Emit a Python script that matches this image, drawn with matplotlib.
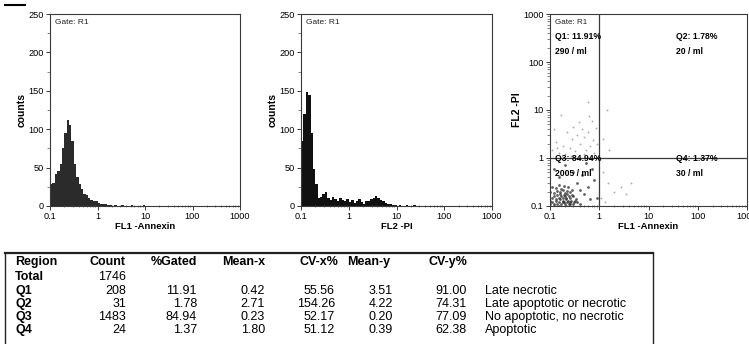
import numpy as np
import matplotlib
matplotlib.use("Agg")
import matplotlib.pyplot as plt
from matplotlib.lines import Line2D

plt.rcParams['font.family'] = ['Liberation Sans', 'DejaVu Sans']

# Histogram channels: 20 bins per decade starting at 0.1
binsPerDecade = 20
annexinCounts = [28, 30, 42, 45, 55, 75, 95, 112, 105, 85, 55, 38, 28, 22, 16, 14, 10, 8, 7, 6,
                 4, 3, 2, 2, 1, 1, 0, 1, 0, 0, 1, 0, 0, 0, 1, 0, 0, 0, 0, 1]
piCounts = [85, 120, 148, 145, 95, 48, 28, 10, 12, 15, 18, 10, 8, 12, 9, 6, 10, 8, 7, 9,
            5, 8, 4, 6, 9, 5, 3, 7, 6, 9, 10, 13, 11, 8, 6, 4, 3, 2, 1, 1,
            0, 1, 0, 0, 1, 0, 0, 1]

# Dot plot events (FL1 Annexin, FL2 PI)
q1X = [0.12, 0.13, 0.15, 0.18, 0.20, 0.22, 0.25, 0.28, 0.30, 0.32, 0.35, 0.38, 0.40, 0.45, 0.50,
       0.55, 0.60, 0.65, 0.70, 0.75, 0.80, 0.85, 0.90, 0.17, 0.60, 0.27, 0.14, 0.50, 0.62, 0.11]
q1Y = [4.0, 2.2, 1.3, 1.8, 1.2, 3.5, 1.6, 2.5, 4.5, 1.4, 3.0, 5.5, 2.0, 4.0, 2.8,
       1.5, 3.5, 1.8, 6.0, 2.4, 1.3, 4.2, 2.0, 8.0, 15.0, 1.1, 1.6, 1.2, 7.5, 1.5]
q2X = [1.45, 1.2, 1.6]
q2Y = [10.0, 2.5, 1.5]
q3X = [0.10, 0.11, 0.12, 0.13, 0.14, 0.15, 0.16, 0.17, 0.18, 0.19, 0.20, 0.21, 0.22, 0.23, 0.24,
       0.25, 0.27, 0.29, 0.31, 0.33, 0.36, 0.40,
       0.11, 0.12, 0.13, 0.14, 0.15, 0.16, 0.17, 0.18, 0.19, 0.20, 0.21, 0.22, 0.24, 0.26,
       0.28, 0.30,
       0.10, 0.12, 0.14, 0.16, 0.18, 0.20, 0.22, 0.25, 0.28,
       0.11, 0.13, 0.15, 0.17, 0.19, 0.23,
       0.10, 0.12, 0.15, 0.18, 0.21, 0.26, 0.32,
       0.35, 0.45, 0.60, 0.70, 0.50, 0.80, 0.30, 0.15, 0.20, 0.90, 0.55, 0.12, 0.40, 0.65]
q3Y = [0.11, 0.12, 0.10, 0.13, 0.11, 0.12, 0.14, 0.11, 0.13, 0.12, 0.11, 0.14, 0.12, 0.13, 0.11,
       0.12, 0.13, 0.11, 0.12, 0.14, 0.12, 0.11,
       0.15, 0.16, 0.14, 0.17, 0.15, 0.18, 0.16, 0.15, 0.17, 0.16, 0.15, 0.18, 0.16, 0.15,
       0.17, 0.16,
       0.20, 0.19, 0.21, 0.20, 0.22, 0.19, 0.21, 0.20, 0.22,
       0.25, 0.24, 0.27, 0.23, 0.26, 0.25,
       0.13, 0.11, 0.10, 0.12, 0.10, 0.11, 0.13,
       0.30, 0.45, 0.25, 0.60, 0.18, 0.35, 0.50, 0.40, 0.70, 0.15, 0.80, 0.60, 0.22, 0.14]
q4X = [1.2, 1.5, 2.0, 2.8, 1.1, 3.5, 1.3, 4.5]
q4Y = [0.5, 0.3, 0.2, 0.25, 0.15, 0.18, 0.12, 0.3]

quadLabels = ["Q1: 11.91%", "Q2: 1.78%", "Q3: 84.94%", "Q4: 1.37%"]
quadConc = ["290 / ml", "20 / ml", "2005 / ml", "30 / ml"]

# Statistics table
tableHeader = ["Region", "Count", "%Gated", "Mean-x", "CV-x%", "Mean-y", "CV-y%", ""]
tableRows = [
    ["Total", "1746", "", "", "", "", "", ""],
    ["Q1", "208", "11.91", "0.42", "55.56", "3.51", "91.00", "Late necrotic"],
    ["Q2", "31", "1.78", "2.71", "154.26", "4.22", "74.31", "Late apoptotic or necrotic"],
    ["Q3", "1483", "84.94", "0.23", "52.17", "0.20", "77.09", "No apoptotic, no necrotic"],
    ["Q4", "24", "1.37", "1.80", "51.12", "0.39", "62.38", "Apoptotic"],
]

W, H = 749, 344
fig = plt.figure(figsize=(W / 100, H / 100), dpi=100)

def px(x0, y0, x1, y1):
    return [x0 / W, 1 - y1 / H, (x1 - x0) / W, (y1 - y0) / H]

spineCol = '#3a3a3a'
tickFs = 6.6
logTicks = [0.1, 1, 10, 100, 1000]
logLabels = ["0.1", "1", "10", "100", "1000"]

def styleAxes(ax):
    ax.set_xscale('log')
    ax.set_xlim(0.1, 1000)
    ax.set_xticks(logTicks)
    ax.set_xticklabels(logLabels)
    for s in ax.spines.values():
        s.set_color(spineCol)
        s.set_linewidth(0.8)
    ax.tick_params(axis='both', which='major', labelsize=tickFs, length=3, width=0.7,
                   color=spineCol, pad=1.5)
    ax.tick_params(axis='x', which='minor', length=2, width=0.5, direction='inout', color='#555')
    ax.tick_params(axis='y', which='minor', length=2, width=0.5, color='#555')

def drawHist(ax, counts, color, xlabel):
    edges = 10 ** (-1 + np.arange(len(counts) + 1) / binsPerDecade)
    ax.stairs(counts, edges, fill=True, color=color, linewidth=0)
    styleAxes(ax)
    ax.set_ylim(0, 250)
    ax.set_yticks([0, 50, 100, 150, 200, 250])
    ax.set_yticks(np.arange(0, 251, 25), minor=True)
    ax.set_ylabel("counts", fontsize=7.5, fontweight='bold', labelpad=1)
    ax.set_xlabel(xlabel, fontsize=6.8, fontweight='bold', labelpad=0.5)
    ax.text(0.025, 0.975, "Gate: R1", transform=ax.transAxes, fontsize=6.0,
            va='top', ha='left', color='#222')

ax1 = fig.add_axes(px(50, 14, 240, 206))
drawHist(ax1, annexinCounts, '#2b2b2b', "FL1 -Annexin")

ax2 = fig.add_axes(px(301, 14, 492, 206))
drawHist(ax2, piCounts, '#111111', "FL2 -PI")

ax3 = fig.add_axes(px(550, 14, 747, 206))
styleAxes(ax3)
ax3.set_yscale('log')
ax3.set_ylim(0.1, 1000)
ax3.set_yticks(logTicks)
ax3.set_yticklabels(logLabels)
ax3.tick_params(axis='y', which='minor', length=2, width=0.5, color='#555')
ax3.set_ylabel("FL2 -PI", fontsize=7.5, fontweight='bold', labelpad=1)
ax3.set_xlabel("FL1 -Annexin", fontsize=6.8, fontweight='bold', labelpad=0.5)
ax3.scatter(q3X, q3Y, s=4, color='#2a2a2a', alpha=0.75, linewidths=0)
ax3.scatter(q1X + q2X + q4X, q1Y + q2Y + q4Y, s=1.8, color='#888888', alpha=0.7, linewidths=0)
ax3.axvline(1, color=spineCol, linewidth=0.9)
ax3.axhline(1, color=spineCol, linewidth=0.9)
ax3.text(0.025, 0.975, "Gate: R1", transform=ax3.transAxes, fontsize=5.8, va='top', color='#222')
quadPos = [(0.025, 0.905), (0.64, 0.905), (0.025, 0.27), (0.64, 0.27)]
for (qx, qy), lab, conc in zip(quadPos, quadLabels, quadConc):
    ax3.text(qx, qy, lab, transform=ax3.transAxes, fontsize=6.2, fontweight='bold', va='top')
    ax3.text(qx, qy - 0.075, conc, transform=ax3.transAxes, fontsize=6.2, fontweight='bold', va='top')

# Small dash in the top left corner
fig.add_artist(Line2D([5 / W, 25 / W], [1 - 5 / H, 1 - 5 / H], color='black', linewidth=1.5))

# Table box
axT = fig.add_axes(px(5, 253, 653, 344))
axT.set_xlim(5, 653)
axT.set_ylim(344, 253)
axT.set_xticks([])
axT.set_yticks([])
for s in axT.spines.values():
    s.set_color('#222')
    s.set_linewidth(1.0)
axT.spines['top'].set_linewidth(1.6)
axT.spines['bottom'].set_visible(False)

colX = [15, 126, 197, 265, 335, 393, 467, 485]
colAlign = ['left', 'right', 'right', 'right', 'right', 'right', 'right', 'left']
headX = [15, 126, 197, 265, 338, 390, 467, 485]
rowY = [262, 277, 291, 304, 317, 330]
tableFs = 9.0
for j, h in enumerate(tableHeader):
    axT.text(headX[j], rowY[0], h, ha=colAlign[j], va='center', fontsize=tableFs, fontweight='bold')
for i, row in enumerate(tableRows):
    for j, v in enumerate(row):
        axT.text(colX[j], rowY[i + 1], v, ha=colAlign[j], va='center', fontsize=tableFs,
                 fontweight='bold' if j == 0 else 'normal')

fig.savefig("out.png", dpi=100)
